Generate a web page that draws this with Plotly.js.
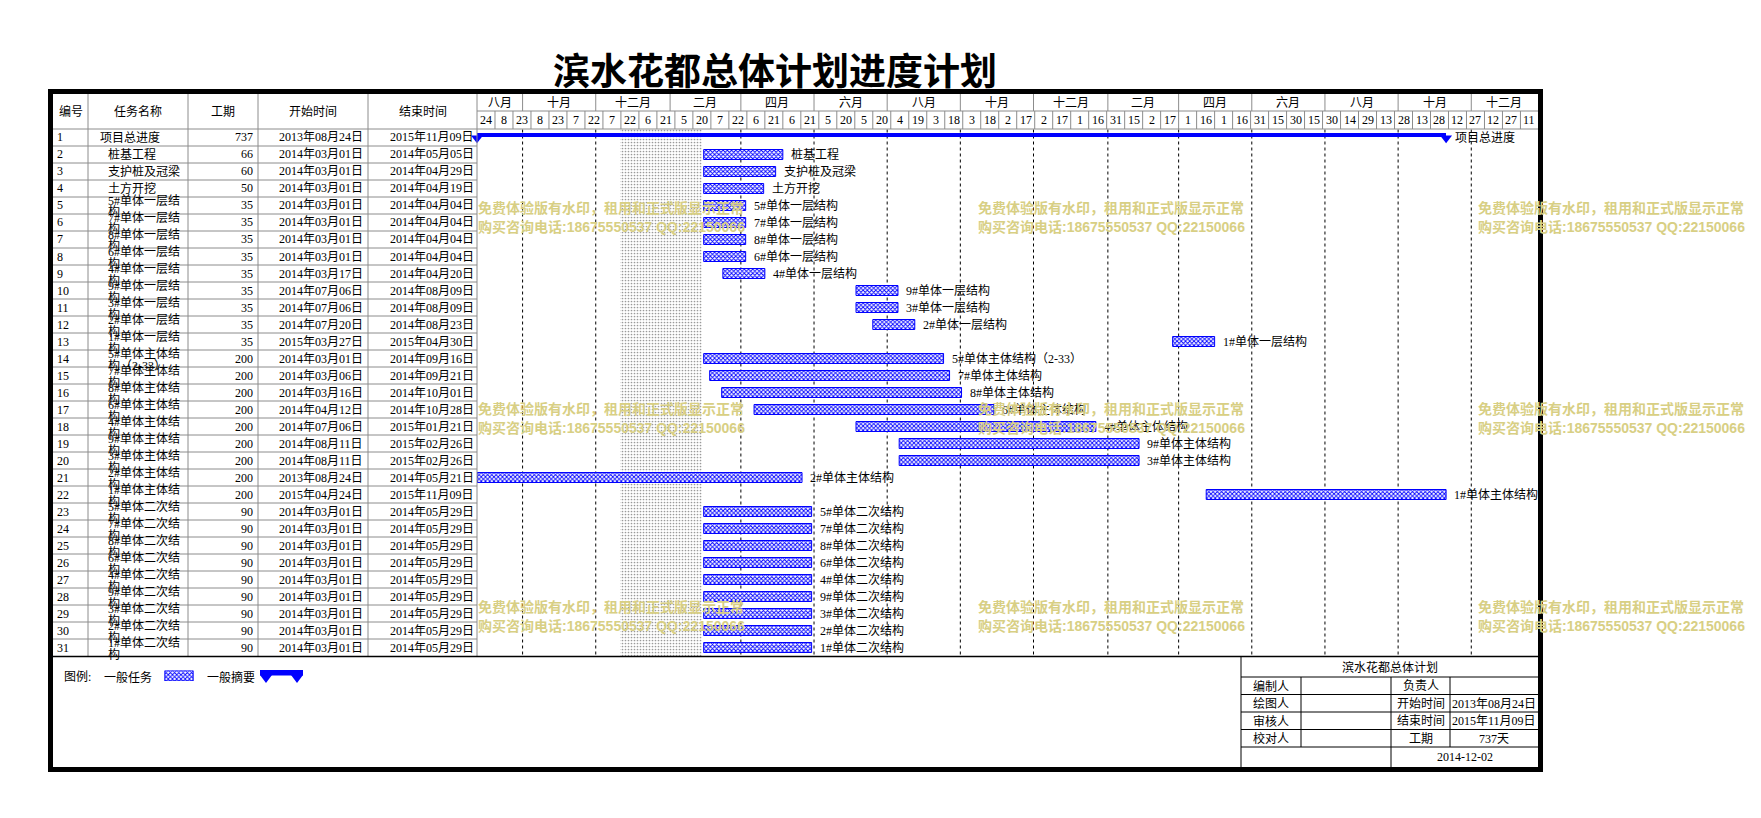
<!DOCTYPE html>
<html><head><meta charset="utf-8">
<script src="https://cdn.plot.ly/plotly-3.0.1.min.js"></script>
<style>html,body{margin:0;padding:0;background:#fff;}</style>
</head><body>
<div id="chart" style="width:1761px;height:818px"></div>
<script>
// ---------------- data ----------------
const chartTitle = '滨水花都总体计划进度计划';
const taskIds = [1,2,3,4,5,6,7,8,9,10,11,12,13,14,15,16,17,18,19,20,21,22,23,24,25,26,27,28,29,30,31];
const taskNames = ['项目总进度','桩基工程','支护桩及冠梁','土方开挖',
  '5#单体一层结构','7#单体一层结构','8#单体一层结构','6#单体一层结构','4#单体一层结构',
  '9#单体一层结构','3#单体一层结构','2#单体一层结构','1#单体一层结构',
  '5#单体主体结构（2-33）','7#单体主体结构','8#单体主体结构','6#单体主体结构','4#单体主体结构',
  '9#单体主体结构','3#单体主体结构','2#单体主体结构','1#单体主体结构',
  '5#单体二次结构','7#单体二次结构','8#单体二次结构','6#单体二次结构','4#单体二次结构',
  '9#单体二次结构','3#单体二次结构','2#单体二次结构','1#单体二次结构'];
const durations = [737,66,60,50,35,35,35,35,35,35,35,35,35,200,200,200,200,200,200,200,200,200,90,90,90,90,90,90,90,90,90];
const startDates = ['2013-08-24','2014-03-01','2014-03-01','2014-03-01','2014-03-01','2014-03-01','2014-03-01','2014-03-01','2014-03-17',
  '2014-07-06','2014-07-06','2014-07-20','2015-03-27','2014-03-01','2014-03-06','2014-03-16','2014-04-12','2014-07-06',
  '2014-08-11','2014-08-11','2013-08-24','2015-04-24',
  '2014-03-01','2014-03-01','2014-03-01','2014-03-01','2014-03-01','2014-03-01','2014-03-01','2014-03-01','2014-03-01'];
const endDates = ['2015-11-09','2014-05-05','2014-04-29','2014-04-19','2014-04-04','2014-04-04','2014-04-04','2014-04-04','2014-04-20',
  '2014-08-09','2014-08-09','2014-08-23','2015-04-30','2014-09-16','2014-09-21','2014-10-01','2014-10-28','2015-01-21',
  '2015-02-26','2015-02-26','2014-05-21','2015-11-09',
  '2014-05-29','2014-05-29','2014-05-29','2014-05-29','2014-05-29','2014-05-29','2014-05-29','2014-05-29','2014-05-29'];
const restStart = '2013-12-21';
const restEnd = '2014-02-28';
const monthBandStarts = ['2013-08-24','2013-10-01','2013-12-01','2014-02-01','2014-04-01','2014-06-01','2014-08-01','2014-10-01',
  '2014-12-01','2015-02-01','2015-04-01','2015-06-01','2015-08-01','2015-10-01','2015-12-01'];
const monthBandLabels = ['八月','十月','十二月','二月','四月','六月','八月','十月','十二月','二月','四月','六月','八月','十月','十二月'];
const dayTickLabels = [24,8,23,8,23,7,22,7,22,
  6,21,5,20,7,22,6,21,6,21,5,20,5,20,4,19,3,18,3,18,2,17,2,17,
  1,16,31,15,2,17,1,16,1,16,31,15,30,15,30,14,29,13,28,13,28,12,27,12,27,
  11];
const headerLabels = ['编号','任务名称','工期','开始时间','结束时间'];
const watermarkLines = ['免费体验版有水印，租用和正式版显示正常','购买咨询电话:18675550537 QQ:22150066'];
const boxTitle = '滨水花都总体计划';
const boxLeftLabels = ['编制人','绘图人','审核人','校对人'];
const boxMidLabels = ['负责人','开始时间','结束时间','工期'];
const printDate = '2014-12-02';
const legendLabels = ['图例:','一般任务','一般摘要'];

// ---------------- helpers ----------------
const W = 1761, H = 818;
const DAY = 86400000;
const px = x => x / W;
const py = y => 1 - y / H;
const toMs = s => Date.parse(s + 'T00:00:00Z');
const msToStr = ms => new Date(ms).toISOString().replace('T', ' ').slice(0, 19);
const cnDate = s => s.slice(0,4) + '年' + s.slice(5,7) + '月' + s.slice(8,10) + '日';
const T0 = toMs(startDates[0]);
const X0 = msToStr(T0);
const X1 = msToStr(T0 + 883.8 * DAY);
const TF = 'Liberation Serif, Noto Sans CJK SC, serif';
const CF = 'Noto Sans CJK SC, sans-serif';
const BLUE = '#0000ff';
const GRID = '#8c8c8c';

const shapes = [];
const annotations = [];
function pline(x0, y0, x1, y1, color, width, dash) {
  shapes.push({type:'line', xref:'paper', yref:'paper', x0:px(x0), y0:py(y0), x1:px(x1), y1:py(y1),
    line:{color:color, width:width, dash:dash || 'solid'}, layer:'above'});
}
function ptext(text, x, y, anchor, opts) {
  opts = opts || {};
  annotations.push({text:text, xref:'paper', yref:'paper', x:px(x), y:py(y), xanchor:anchor, yanchor:'middle',
    showarrow:false, font:{family:opts.family || TF, size:opts.size || 12, color:opts.color || '#000'}});
}

// ---------------- table / header structure ----------------
const colX = [53, 88, 188, 258, 368, 477];
// header lines
pline(53, 129, 1538, 129, GRID, 1);
pline(477, 111, 1538, 111, GRID, 1);
for (let c = 1; c < colX.length; c++) pline(colX[c], 94, colX[c], 656, GRID, 1);
// header texts
const headerCenters = [70.5, 138, 223, 313, 422.5];
headerLabels.forEach((t, i) => ptext(t, headerCenters[i], 111.5, 'center'));
// row lines
for (let r = 1; r < taskIds.length; r++) {
  shapes.push({type:'line', xref:'paper', yref:'y', x0:px(53), x1:px(477), y0:r + 0.5, y1:r + 0.5,
    line:{color:GRID, width:1}, layer:'above'});
}
// bottom separator
pline(53, 656.5, 1538, 656.5, '#000', 1.5);

// table text
function rtext(text, x, row, anchor, yshift) {
  annotations.push({text:text, xref:'paper', yref:'y', x:px(x), y:row, xanchor:anchor, yanchor:'middle',
    yshift:yshift || 0, showarrow:false, font:{family:TF, size:12, color:'#000'}});
}
taskIds.forEach((id, i) => {
  const row = i + 1;
  rtext(String(id), 54.5, row, 'left');
  const nx = i === 0 ? 98 : 106.3;
  const nm = taskNames[i];
  if (nm.length > 7) {
    rtext(nm.slice(0, 7), nx, row, 'left', 4.5);
    rtext(nm.slice(7), nx, row, 'left', -6.5);
  } else {
    rtext(nm, nx, row, 'left');
  }
  rtext(String(durations[i]), 255.3, row, 'right');
  rtext(cnDate(startDates[i]), 364.7, row, 'right');
  rtext(cnDate(endDates[i]), 475.5, row, 'right');
});

// ---------------- timeline header (through x axis) ----------------
const bandEnds = monthBandStarts.slice(1).map(toMs).concat([toMs(startDates[0]) + 883.8 * DAY]);
monthBandStarts.forEach((s, i) => {
  if (i > 0) {
    shapes.push({type:'line', xref:'x', yref:'paper', x0:s, x1:s, y0:py(94), y1:py(111), line:{color:GRID, width:1}, layer:'above'});
    shapes.push({type:'line', xref:'x', yref:'paper', x0:s, x1:s, y0:py(129.5), y1:py(656), line:{color:'#000', width:1, dash:'dot'}, layer:'below'});
  }
  const mid = (toMs(s) + bandEnds[i]) / 2;
  annotations.push({text:monthBandLabels[i], xref:'x', yref:'paper', x:msToStr(mid), y:py(102.5), xanchor:'center', yanchor:'middle',
    showarrow:false, font:{family:TF, size:12, color:'#000'}});
});
dayTickLabels.forEach((lab, i) => {
  const cs = T0 + 15 * i * DAY;
  if (i > 0) shapes.push({type:'line', xref:'x', yref:'paper', x0:msToStr(cs), x1:msToStr(cs), y0:py(111), y1:py(129), line:{color:GRID, width:1}, layer:'above'});
  annotations.push({text:String(lab), xref:'x', yref:'paper', x:msToStr(cs + 7.5 * DAY), y:py(120), xanchor:'center', yanchor:'middle',
    showarrow:false, font:{family:TF, size:12, color:'#000'}});
});

// ---------------- traces ----------------
const traces = [];
// non-working period shading
traces.push({type:'bar', orientation:'h', y:[16], width:[31], base:[restStart], x:[toMs(restEnd) - toMs(restStart)],
  marker:{color:'#d0d0d0', line:{width:0}, pattern:{shape:'.', fgcolor:'#9a9a9a', bgcolor:'#ffffff', size:3, solidity:0.25}},
  hoverinfo:'skip'});
// summary
const sumDur = toMs(endDates[0]) + DAY - toMs(startDates[0]);
traces.push({type:'bar', orientation:'h', y:[1 - 2.5/17], width:[4.6/17], base:[startDates[0]], x:[sumDur],
  marker:{color:BLUE, line:{width:0}}, hoverinfo:'skip'});
traces.push({type:'scatter', mode:'markers', x:[startDates[0], msToStr(toMs(endDates[0]) + DAY)], y:[1 + 0.6/17, 1 + 0.6/17],
  marker:{symbol:'triangle-down', size:10.4, color:BLUE, line:{width:0}}, cliponaxis:false, hoverinfo:'skip'});
// tasks
const tRows = [], tBase = [], tDur = [];
for (let i = 1; i < taskIds.length; i++) {
  tRows.push(i + 1); tBase.push(startDates[i]); tDur.push(toMs(endDates[i]) + DAY - toMs(startDates[i]));
}
traces.push({type:'bar', orientation:'h', y:tRows, base:tBase, x:tDur, width:10/17,
  marker:{color:BLUE, line:{color:BLUE, width:1}, pattern:{shape:'x', fgcolor:BLUE, bgcolor:'#ffffff', size:3, solidity:0.5}},
  hoverinfo:'skip'});
// bar labels
taskIds.forEach((id, i) => {
  annotations.push({text:taskNames[i], xref:'x', yref:'y', x:msToStr(toMs(endDates[i]) + DAY), y:i + 1,
    xanchor:'left', yanchor:'middle', xshift: i === 0 ? 7 : 6, showarrow:false, font:{family:TF, size:12, color:'#000'}});
});

// legend symbol (hatched)
traces.push({type:'bar', orientation:'h', xaxis:'x2', yaxis:'y2', y:[0], x:[1], base:[0], width:[1],
  marker:{color:BLUE, line:{color:BLUE, width:1}, pattern:{shape:'x', fgcolor:BLUE, bgcolor:'#ffffff', size:3, solidity:0.5}},
  hoverinfo:'skip'});
ptext(legendLabels[0], 61.5, 677, 'left');
ptext(legendLabels[1], 101.5, 677, 'left');
ptext(legendLabels[2], 205, 677, 'left');
shapes.push({type:'rect', xref:'paper', yref:'paper', x0:px(260), x1:px(303), y0:py(670), y1:py(675.5), fillcolor:BLUE, line:{width:0}, layer:'above'});
shapes.push({type:'path', xref:'paper', yref:'paper', path:`M ${px(260)} ${py(675)} L ${px(272)} ${py(675)} L ${px(266)} ${py(683)} Z`, fillcolor:BLUE, line:{width:0}, layer:'above'});
shapes.push({type:'path', xref:'paper', yref:'paper', path:`M ${px(291)} ${py(675)} L ${px(303)} ${py(675)} L ${px(297)} ${py(683)} Z`, fillcolor:BLUE, line:{width:0}, layer:'above'});

// ---------------- info box ----------------
pline(1241, 657, 1241, 767, '#000', 1);
[677, 694.5, 712, 729.5, 747].forEach(y => pline(1241, y, 1538, y, '#000', 1));
pline(1301, 677, 1301, 747, '#000', 1);
pline(1391, 677, 1391, 767, '#000', 1);
pline(1450, 677, 1450, 747, '#000', 1);
ptext(boxTitle, 1389.5, 667, 'center');
const boxRowsY = [686, 703.5, 721, 738.5];
boxLeftLabels.forEach((t, i) => ptext(t, 1271, boxRowsY[i], 'center'));
boxMidLabels.forEach((t, i) => ptext(t, 1420.5, boxRowsY[i], 'center'));
const boxVals = ['', cnDate(startDates[0]), cnDate(endDates[0]), durations[0] + '天'];
boxVals.forEach((t, i) => { if (t) ptext(t, 1494, boxRowsY[i], 'center'); });
ptext(printDate, 1464.5, 757, 'center');

// ---------------- frame & title ----------------
shapes.push({type:'rect', xref:'paper', yref:'paper', x0:px(50.5), x1:px(1540.5), y0:py(91.5), y1:py(769.5),
  line:{color:'#000', width:5}, fillcolor:'rgba(0,0,0,0)', layer:'above'});
ptext('<b>' + chartTitle + '</b>', 775, 69, 'center', {family:CF, size:37});

// ---------------- watermarks ----------------
const wmCols = [475.5, 975.5, 1475.5];
const wmRows = [[208, 226.5], [409.5, 427.5], [607, 625.5]];
wmRows.forEach(r => wmCols.forEach(x => {
  ptext('<b>' + watermarkLines[0] + '</b>', x, r[0], 'left', {family:'Liberation Sans, Noto Sans CJK SC, sans-serif', size:14, color:'#d8cf84'});
  ptext('<b>' + watermarkLines[1] + '</b>', x, r[1], 'left', {family:'Liberation Sans, Noto Sans CJK SC, sans-serif', size:14, color:'#d8cf84'});
}));

const layout = {
  width:W, height:H, margin:{l:0, r:0, t:0, b:0, pad:0},
  paper_bgcolor:'#ffffff', plot_bgcolor:'rgba(0,0,0,0)', showlegend:false, barmode:'overlay', bargap:0,
  xaxis:{type:'date', range:[X0, X1], domain:[px(477), px(1537)], showticklabels:false, showgrid:false, zeroline:false, showline:false, ticks:'', fixedrange:true},
  yaxis:{range:[31.5, 0.5], domain:[py(656), py(129)], showticklabels:false, showgrid:false, zeroline:false, showline:false, ticks:'', fixedrange:true},
  xaxis2:{domain:[px(164), px(194)], range:[-0.03, 1.03], visible:false, anchor:'y2', fixedrange:true},
  yaxis2:{domain:[py(681), py(670.5)], range:[-0.5, 0.5], visible:false, anchor:'x2', fixedrange:true},
  shapes:shapes, annotations:annotations, hovermode:false
};
Plotly.newPlot('chart', traces, layout, {staticPlot:true, displayModeBar:false});
</script>
</body></html>
